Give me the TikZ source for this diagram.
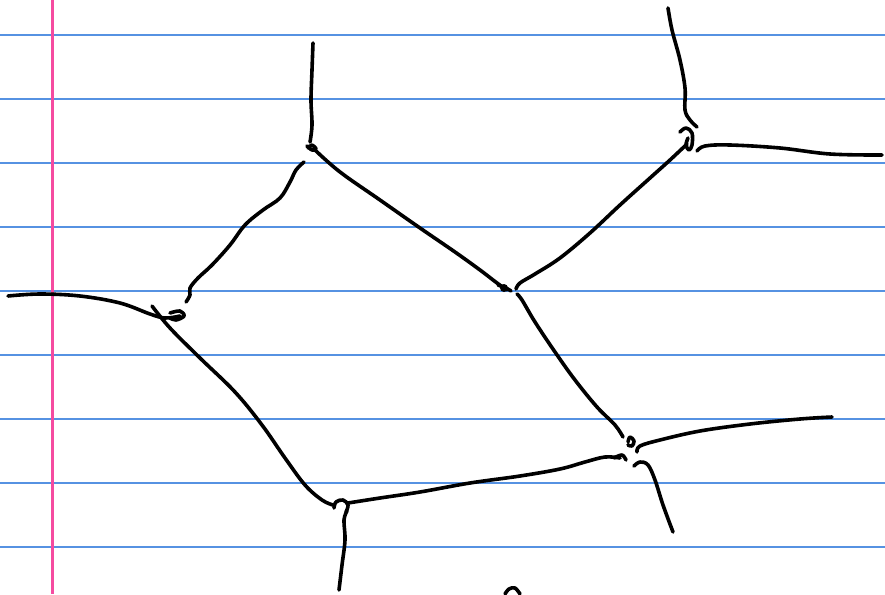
\documentclass[tikz,border=0pt]{standalone}
\begin{document}
\begin{tikzpicture}[x=1pt,y=-1pt,
  rule/.style={draw={rgb,255:red,86;green,146;blue,226},line width=1.1pt},
  margin/.style={draw={rgb,255:red,245;green,75;blue,160},line width=2.6pt},
  ink/.style={draw=black,line width=3.6pt,line cap=round,line join=round}]
\useasboundingbox[fill=white] (0,0) rectangle (885,594);
\foreach \y in {35,99,163,227,291,355,419,483,547}
  \draw[rule] (0,\y) -- (885,\y);
\draw[margin] (52.5,0) -- (52.5,594);
% vertex A
\draw[ink] plot[smooth,tension=0.6] coordinates {(313,43) (312,70) (311,100) (312,125) (310,142)};
\draw[ink] plot[smooth,tension=0.6] coordinates {(307,146) (312,150) (316,149) (312,145) (308,148)};
\draw[ink] plot[smooth,tension=0.6] coordinates {(315,150) (340,172) (380,200) (420,228) (455,252) (480,270) (497,283) (507,290)};
\draw[ink] plot[smooth,tension=0.6] coordinates {(304,162) (296,170) (290,182) (280,198) (263,210) (245,225) (230,245) (212,265) (198,278) (190,288) (190,295) (186,302)};
% vertex D
\draw[ink] plot[smooth,tension=0.6] coordinates {(8,296) (40,294) (80,296) (120,303) (150,314) (165,318) (180,316)};
\draw[ink] plot[smooth,tension=0.6] coordinates {(170,313) (180,311) (184,316) (176,320) (170,318)};
\draw[ink] plot[smooth,tension=0.6] coordinates {(152,306) (170,328) (200,358) (235,392) (262,425) (285,458) (305,485) (322,500) (333,505)};
% vertex E
\draw[ink] plot[smooth,tension=0.6] coordinates {(334,508) (336,502) (343,500) (348,505) (346,512)};
\draw[ink] plot[smooth,tension=0.6] coordinates {(348,503) (380,498) (420,492) (470,483) (520,476) (560,469) (585,462) (605,457) (620,458)};
\draw[ink] plot[smooth,tension=0.6] coordinates {(347,511) (344,520) (345,540) (342,565) (339,590)};
% vertex B
\fill (504,288) circle (4pt);
\draw[ink] plot[smooth,tension=0.6] coordinates {(498,285) (506,288) (511,291)};
\draw[ink] plot[smooth,tension=0.6] coordinates {(516,289) (520,283) (535,274) (560,258) (590,233) (620,205) (650,178) (670,160) (687,144)};
\draw[ink] plot[smooth,tension=0.6] coordinates {(517,294) (522,300) (535,322) (555,352) (575,380) (597,407) (615,425) (623,437)};
% vertex C
\draw[ink] plot[smooth,tension=0.6] coordinates {(668,8) (672,30) (680,60) (685,88) (685,110) (690,120) (697,127)};
\draw[ink] plot[smooth,tension=0.6] coordinates {(680,132) (686,128) (692,133) (692,145) (689,150) (686,145) (688,138)};
\draw[ink] plot[smooth,tension=0.6] coordinates {(697,151) (705,146) (730,145) (780,148) (830,154) (882,155)};
% vertex F
\draw[ink] plot[smooth,tension=0.6] coordinates {(628,442) (630,437) (634,441) (632,446) (628,445)};
\draw[ink] plot[smooth,tension=0.6] coordinates {(637,452) (640,446) (660,440) (700,431) (750,424) (800,419) (832,417)};
\draw[ink] plot[smooth,tension=0.6] coordinates {(614,458) (622,455) (626,460)};
\draw[ink] plot[smooth,tension=0.6] coordinates {(634,466) (640,462) (648,465) (655,480) (663,505) (673,532)};
% bottom loop
\draw[ink] plot[smooth,tension=0.6] coordinates {(505,594) (509,589) (515,588) (520,594)};
\end{tikzpicture}
\end{document}
